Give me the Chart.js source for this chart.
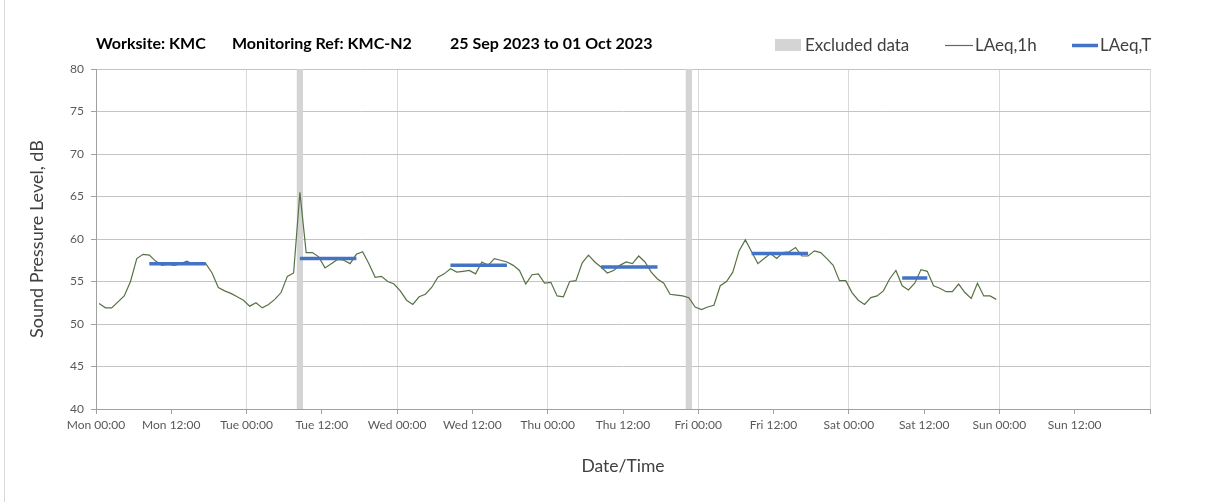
<!DOCTYPE html>
<html>
<head>
<meta charset="utf-8">
<script src="https://cdn.jsdelivr.net/npm/chart.js@4.4.0/dist/chart.umd.min.js"></script>
<style>
html, body { margin: 0; padding: 0; background: #fff; }
#wrap { position: relative; width: 1208px; height: 502px; }
#edge { position: absolute; left: 4px; top: 0; width: 0; height: 502px; border-left: 1px solid #d9d9d9; }
</style>
</head>
<body>
<div id="wrap">
  <div id="edge"></div>
  <canvas id="myChart" width="1208" height="502"></canvas>
</div>
<script>
'use strict';
// tick labels every 12 hours, from Mon 00:00
let tickLabels = ['Mon 00:00', 'Mon 12:00', 'Tue 00:00', 'Tue 12:00', 'Wed 00:00', 'Wed 12:00',
  'Thu 00:00', 'Thu 12:00', 'Fri 00:00', 'Fri 12:00', 'Sat 00:00', 'Sat 12:00', 'Sun 00:00', 'Sun 12:00'];

// hourly LAeq,1h, one value per hour starting Mon 00:00
let laeq1h = [
  52.4, 51.9, 51.9, 52.6, 53.3, 55.0, 57.7, 58.2, 58.1, 57.4, 56.9, 57.0,
  56.9, 57.1, 57.4, 57.0, 57.1, 57.1, 56.0, 54.3, 53.9, 53.6, 53.2, 52.8,
  52.1, 52.5, 51.9, 52.3, 52.9, 53.7, 55.6, 56.0, 65.5, 58.4, 58.4, 57.9,
  56.6, 57.1, 57.6, 57.5, 57.1, 58.2, 58.5, 57.1, 55.5, 55.6, 55.0, 54.7,
  53.9, 52.8, 52.3, 53.2, 53.5, 54.3, 55.5, 55.9, 56.5, 56.1, 56.2, 56.3,
  55.9, 57.3, 56.9, 57.7, 57.5, 57.3, 56.9, 56.3, 54.7, 55.8, 55.9, 54.8,
  54.9, 53.3, 53.2, 55.0, 55.1, 57.2, 58.1, 57.3, 56.7, 56.0, 56.3, 56.9,
  57.3, 57.1, 58.0, 57.3, 56.1, 55.3, 54.8, 53.5, 53.4, 53.3, 53.1, 52.0,
  51.7, 52.0, 52.2, 54.5, 55.0, 56.1, 58.6, 59.9, 58.5, 57.1, 57.7, 58.3,
  57.7, 58.4, 58.5, 59.0, 58.0, 58.0, 58.6, 58.4, 57.7, 56.9, 55.1, 55.1,
  53.7, 52.8, 52.3, 53.1, 53.3, 53.9, 55.3, 56.3, 54.5, 54.0, 54.8, 56.4,
  56.2, 54.5, 54.2, 53.8, 53.8, 54.7, 53.7, 53.0, 54.8, 53.3, 53.3, 52.9
];

// LAeq,T daytime periods (hours from Mon 00:00)
let periodStart = [8.5, 32.5, 56.5, 80.5, 104.5, 128.5];
let periodEnd = [17.5, 41.5, 65.5, 89.5, 113.5, 132.5];
let periodLevel = [57.1, 57.7, 56.9, 56.7, 58.3, 55.4];

// excluded data (hours from Mon 00:00)
let excludedStart = [32, 94];
let excludedEnd = [33, 95];

let lineData = [];
for (let i = 0; i < laeq1h.length; i++) {
  lineData.push({ x: i + 0.5, y: laeq1h[i] });
}

let periodData = [];
for (let i = 0; i < periodLevel.length; i++) {
  periodData.push({ x: periodStart[i], y: periodLevel[i] });
  periodData.push({ x: periodEnd[i], y: periodLevel[i] });
  periodData.push({ x: periodEnd[i], y: null });
}

let FONT = 'Lato, "Open Sans", sans-serif';

let excludedPlugin = {
  id: 'excluded',
  beforeDatasetsDraw(chart) {
    let ctx = chart.ctx;
    let xs = chart.scales.x;
    let area = chart.chartArea;
    ctx.save();
    ctx.fillStyle = '#d4d4d4';
    for (let i = 0; i < excludedStart.length; i++) {
      let x1 = xs.getPixelForValue(excludedStart[i]);
      let x2 = xs.getPixelForValue(excludedEnd[i]);
      ctx.fillRect(x1, area.top, x2 - x1, area.bottom - area.top);
    }
    ctx.restore();
  }
};

let headerPlugin = {
  id: 'header',
  afterDraw(chart) {
    let ctx = chart.ctx;
    ctx.save();
    ctx.textBaseline = 'alphabetic';
    ctx.textAlign = 'left';
    ctx.fillStyle = '#000';
    ctx.font = 'bold 16px ' + FONT;
    ctx.fillText('Worksite: KMC', 96, 49);
    ctx.fillText('Monitoring Ref: KMC-N2', 232, 49);
    ctx.fillText('25 Sep 2023 to 01 Oct 2023', 450, 49);

    ctx.font = '17px ' + FONT;
    ctx.fillStyle = '#d4d4d4';
    ctx.fillRect(775, 39, 26, 12);
    ctx.fillStyle = '#404040';
    ctx.fillText('Excluded data', 805, 51);

    ctx.strokeStyle = '#577245';
    ctx.lineWidth = 1.2;
    ctx.beginPath();
    ctx.moveTo(945, 45.5);
    ctx.lineTo(973, 45.5);
    ctx.stroke();
    ctx.fillText('LAeq,1h', 975, 51);

    ctx.strokeStyle = '#4472C4';
    ctx.lineWidth = 3.5;
    ctx.beginPath();
    ctx.moveTo(1072, 45.5);
    ctx.lineTo(1098, 45.5);
    ctx.stroke();
    ctx.fillText('LAeq,T', 1100, 51);
    ctx.restore();
  }
};

let ctx = document.getElementById('myChart').getContext('2d');
let chart = new Chart(ctx, {
  type: 'line',
  data: {
    datasets: [{
      label: 'LAeq,1h',
      data: lineData,
      borderColor: '#577245',
      borderWidth: 1.2,
      pointRadius: 0,
      tension: 0,
      order: 2
    }, {
      label: 'LAeq,T',
      data: periodData,
      borderColor: '#4472C4',
      borderWidth: 3.5,
      pointRadius: 0,
      spanGaps: false,
      order: 1
    }]
  },
  options: {
    responsive: false,
    animation: false,
    layout: { padding: { top: 69, right: 58, bottom: 0, left: 0 } },
    plugins: {
      legend: { display: false },
      tooltip: { enabled: false }
    },
    scales: {
      x: {
        type: 'linear',
        min: 0,
        max: 168,
        afterFit(scale) { scale.height = 93; },
        ticks: {
          stepSize: 12,
          autoSkip: false,
          maxRotation: 0,
          padding: 4,
          color: '#595959',
          font: { family: FONT, size: 12 },
          callback(value) {
            let i = Math.round(value / 12);
            return tickLabels[i] || '';
          }
        },
        grid: {
          color(c) { return c.tick && c.tick.value % 24 === 0 ? '#d9d9d9' : 'rgba(0,0,0,0)'; },
          tickColor: '#a0a0a0',
          tickLength: 5,
          drawTicks: true
        },
        border: { color: '#a0a0a0' },
        title: {
          display: true,
          text: 'Date/Time',
          color: '#404040',
          font: { family: FONT, size: 17.5 },
          padding: { top: 0, bottom: 25 }
        }
      },
      y: {
        min: 40,
        max: 80,
        afterFit(scale) { scale.width = 96; },
        ticks: {
          stepSize: 5,
          padding: 7,
          color: '#595959',
          font: { family: FONT, size: 12 }
        },
        grid: {
          color: '#c4c4c4',
          tickColor: '#a0a0a0',
          tickLength: 5
        },
        border: { color: '#a0a0a0' },
        title: {
          display: true,
          text: 'Sound Pressure Level, dB',
          color: '#404040',
          font: { family: FONT, size: 18 },
          padding: { top: 26, bottom: 0 }
        }
      }
    }
  },
  plugins: [excludedPlugin, headerPlugin]
});
</script>
</body>
</html>
